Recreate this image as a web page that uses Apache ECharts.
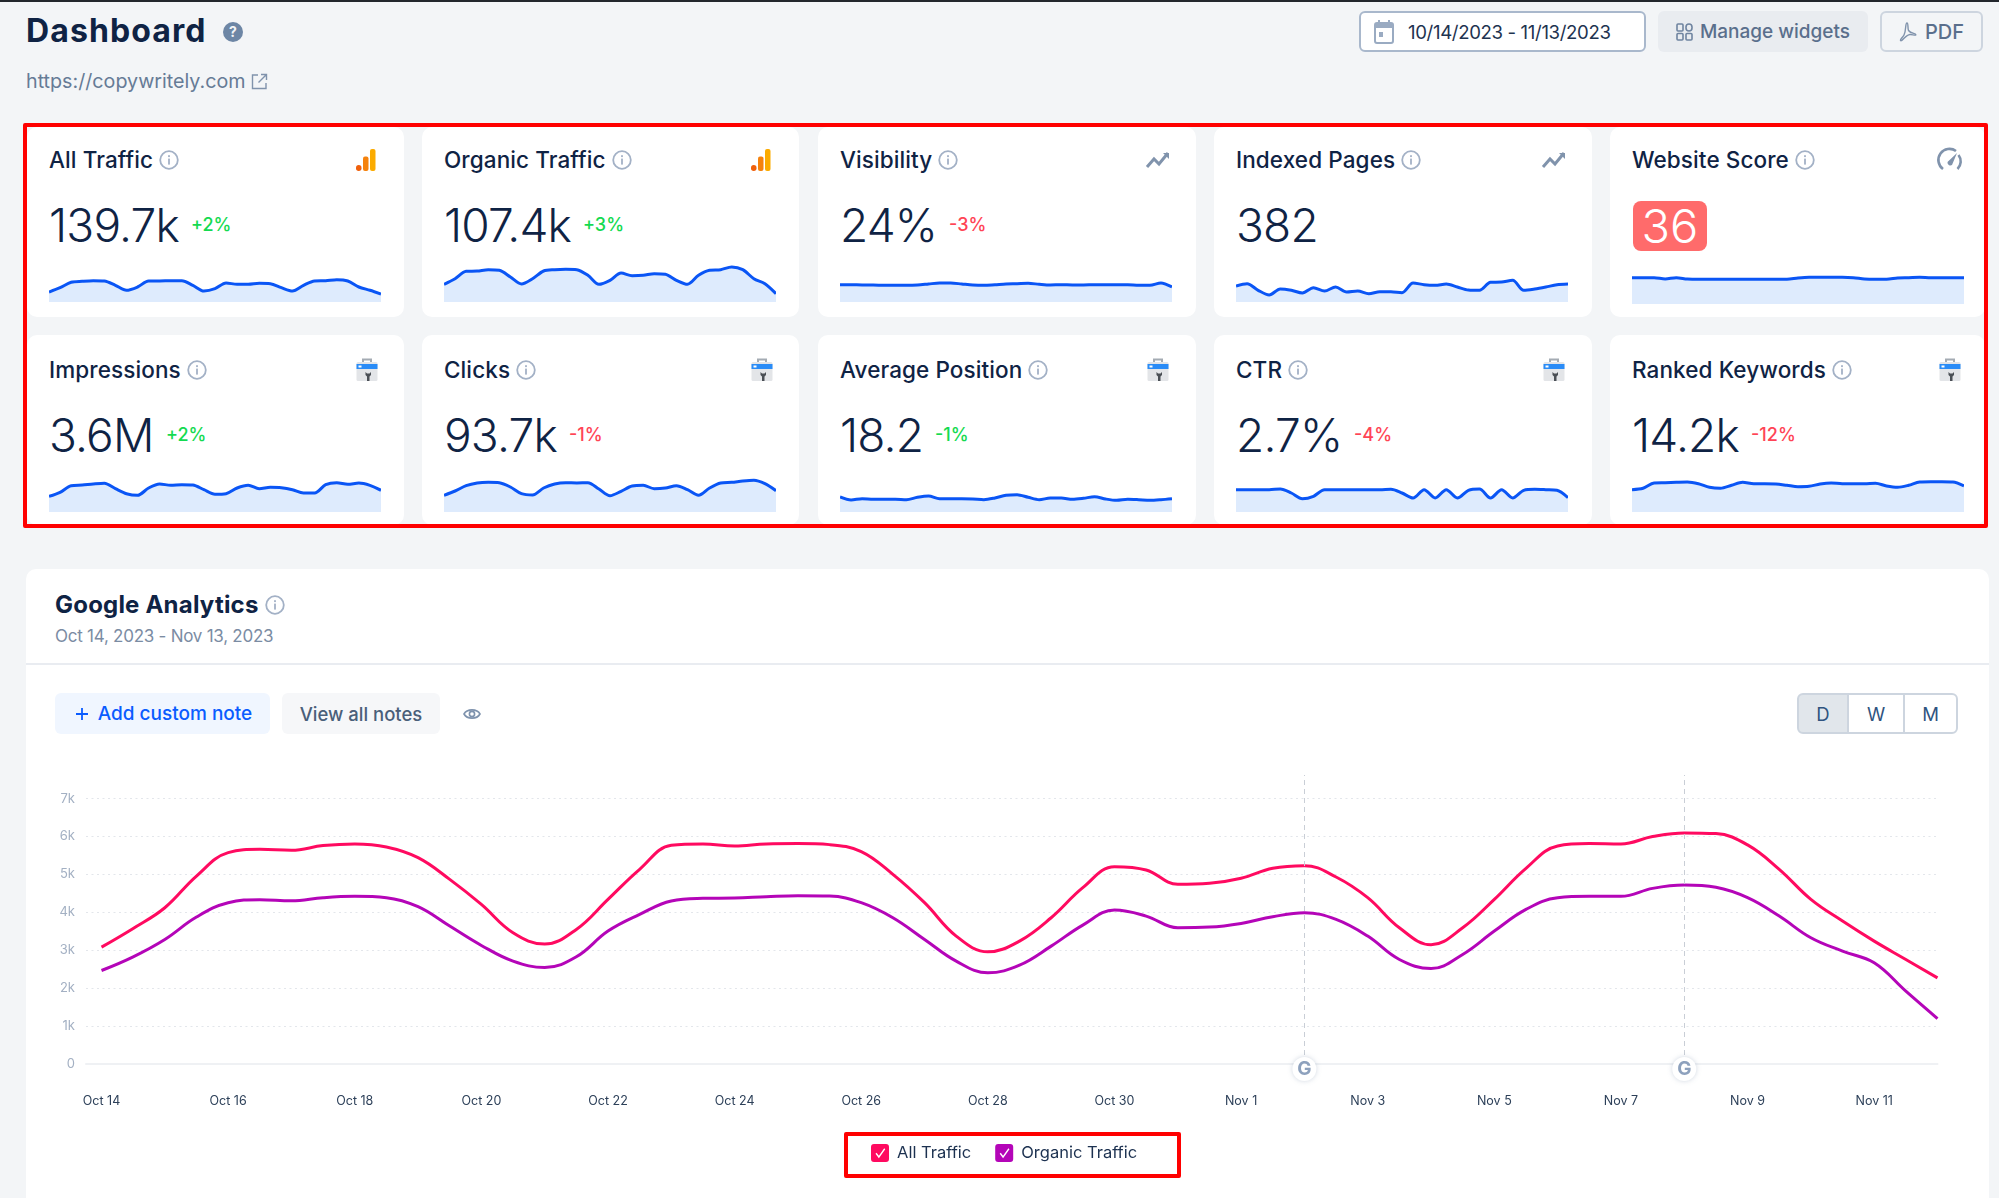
<!DOCTYPE html>
<html>
<head>
<meta charset="utf-8">
<title>Dashboard</title>
<script src="https://cdn.jsdelivr.net/npm/echarts@6/dist/echarts.min.js"></script>
<style>
    html,body{margin:0;padding:0;width:1999px;height:1198px;overflow:hidden;background:#f3f5f7;font-family:Inter,"Noto Sans",sans-serif;color:#0f2344;}
    .abs,.card,.panel,.red-box,.btn{position:absolute;box-sizing:border-box;}
    .abs{white-space:nowrap;line-height:1;}
    .top-line{position:absolute;left:0;top:0;width:1999px;height:2px;background:#23272d;}
    .card{background:#fff;border-radius:10px;}
    .panel{left:26px;top:569px;width:1963px;height:640px;background:#fff;border-radius:10px;}
    .red-box{border:4px solid #f00;z-index:5;border-radius:2px;}
    .btn{font-size:18.5px;font-weight:500;border-radius:6px;display:flex;align-items:center;justify-content:center;white-space:nowrap;}
    .card-title{font-size:22.5px;font-weight:500;letter-spacing:.1px;}
    .card-value{font-size:46px;font-weight:350;letter-spacing:-.8px;}
    .card-delta{font-size:18px;font-weight:500;}
    .spark{position:absolute;width:332px;height:60px;}
    svg{position:absolute;overflow:visible;}
    #mainChart{position:absolute;left:0;top:760px;width:1999px;height:438px;}
</style>
</head>
<body>
<div class="top-line"></div>
<div id="page"></div>
<div class="panel"></div>
<div id="panelItems"></div>
<div id="mainChart"></div>
<div class="red-box" style="left:23px;top:123px;width:1965px;height:405px;"></div>
<div class="red-box" style="left:844px;top:1132px;width:337px;height:46px;"></div>

<script>
/*卡片文字*/
var cardTitles = ['All Traffic', 'Organic Traffic', 'Visibility', 'Indexed Pages', 'Website Score',
    'Impressions', 'Clicks', 'Average Position', 'CTR', 'Ranked Keywords'];
var cardValues = ['139.7k', '107.4k', '24%', '382', '36', '3.6M', '93.7k', '18.2', '2.7%', '14.2k'];
var cardDeltas = ['+2%', '+3%', '-3%', '', '', '+2%', '-1%', '-1%', '-4%', '-12%'];
var deltaGood = [true, true, false, false, false, true, false, true, false, false];
var cardIcons = ['ga', 'ga', 'trend', 'trend', 'gauge', 'gsc', 'gsc', 'gsc', 'gsc', 'gsc'];

/*卡片小图数据 (no scale in the picture, relative height read off each sparkline)*/
var sparkAllTraffic = [10,14.3,19.7,20.7,21.3,21,16.7,11.7,15,21,21,21.3,21.3,16.7,11,13.3,19,17.7,17.7,18.7,18.3,14.3,11,16.7,21,21.3,22.3,21,15,11.7,8];
var sparkOrganic = [17.7,23.3,30.7,31,32.3,31.7,25,18,23.3,31,32.3,32.7,32.3,26.7,17.7,21.7,29,26.3,26.7,28.3,27.7,21.7,17.7,26.7,31.7,32.3,35,32.3,23.3,18.3,8.3];
var sparkVisibility = [17.3,17.3,17,17,16.7,16.7,16.7,17,18,19,19,18,17,16.7,17.3,18,18.3,18.7,17.7,17,17.3,17,17,17.3,17.3,17.3,17.3,16.7,16.7,19,15];
var sparkIndexed = [16,18.3,11.7,7,13,11.7,9,14.3,11,15,10,11,8.3,10.3,10.3,9.3,19,17.3,16.7,18,15,12,11.7,19.7,20,21.7,11.7,13,15,17.3,18];
var sparkScore = [26.3,26.3,26.3,25,26.3,25,24.7,24.7,24.7,24.7,24.7,24.7,24.7,24.7,24.7,26,26.7,26.7,26.7,26.7,26.3,25,24.7,24.7,26,26.3,26.7,26.3,26.3,26.3,26.3];
var sparkImpressions = [15.7,19.7,26.3,27,28,28.7,23.3,18.3,16.7,24,28,26.7,27.3,27,22.3,17.7,18.3,24,26.7,23.3,24.7,24.3,22.3,19,19,27.3,29.3,27.7,29,26.7,21.7];
var sparkClicks = [16.7,21,26.3,29,29.7,29.3,25,18.3,17,24,28,29.3,29,29.3,23,16.3,20.7,26,26.7,23.3,24,26.3,22.3,16.7,24,29,29.7,31,31.7,28.3,21.3];
var sparkPosition = [15,12,13.3,12.7,12.7,12.7,12.3,14.7,16,13.3,13.3,13.3,13,12.3,14,16.7,17.3,14.7,12.3,14,14,12.7,13.7,15.3,13,11.7,12.7,12.3,11.7,12.3,13.3];
var sparkCtr = [22.3,22.3,22.3,22.3,23,19,13.3,15.7,22.3,22.3,22.3,22.3,22.3,22.3,22.7,19,14,22.3,14,22.3,14,21.7,23,14,22.3,14,21.7,22.7,22.3,21.7,14.3];
var sparkKeywords = [22.3,23.7,29,29.3,29.7,30,28.3,24.7,23.7,26.7,29.7,28.3,28.3,28,26.7,25.3,25.7,28,29,28.3,28.3,28.3,28.7,26,24.7,26.7,30,30.3,30.3,30,26];
var sparkSeries = [sparkAllTraffic, sparkOrganic, sparkVisibility, sparkIndexed, sparkScore,
    sparkImpressions, sparkClicks, sparkPosition, sparkCtr, sparkKeywords];

/*Google Analytics 折线图数据, 每半天读一个值*/
var dayLabels = ['Oct 14','Oct 15','Oct 16','Oct 17','Oct 18','Oct 19','Oct 20','Oct 21','Oct 22','Oct 23','Oct 24','Oct 25','Oct 26','Oct 27','Oct 28','Oct 29','Oct 30','Oct 31',
    'Nov 1','Nov 2','Nov 3','Nov 4','Nov 5','Nov 6','Nov 7','Nov 8','Nov 9','Nov 10','Nov 11','Nov 12'];
var allTraffic = [3084,3577,4123,4960,5577,5665,5639,5762,5806,5727,5445,4872,4211,3463,3163,3551,4344,5137,5771,5806,
    5753,5806,5815,5788,5603,5004,4256,3375,2960,3242,3859,4652,5207,5119,4740,4766,4899,5163,5233,
    4934,4388,3595,3145,3595,4344,5163,5753,5815,5806,6000,6097,6079,5780,5137,4344,3771,3242,2758,2273];
var organicTraffic = [2467,2828,3286,3877,4256,4335,4308,4388,4423,4388,4150,3639,3128,2714,2546,2828,3507,3947,4300,4370,
    4379,4414,4441,4432,4256,3859,3286,2714,2405,2608,3110,3665,4062,3903,3595,3612,3709,3886,3991,
    3815,3375,2758,2520,2890,3507,4079,4388,4423,4423,4634,4722,4661,4388,3903,3330,2978,2670,1921,1198];
var yTicks = [0,1000,2000,3000,4000,5000,6000,7000];
var xTickDays = [0,2,4,6,8,10,12,14,16,18,20,22,24,26,28];
var googleUpdateDays = [19,25];

/*图标*/
function infoIcon(x,y){
    return '<svg style="left:'+(x-10)+'px;top:'+(y-10)+'px" width="20" height="20" viewBox="0 0 20 20"><circle cx="10" cy="10" r="8.8" fill="none" stroke="#a3b1c6" stroke-width="1.8"/><rect x="9.1" y="8.6" width="1.8" height="6" fill="#a3b1c6"/><rect x="9.1" y="5.2" width="1.8" height="1.9" fill="#a3b1c6"/></svg>';
}
function cardIcon(type,x,y){
    var style = 'style="left:'+(x-12)+'px;top:'+(y-12)+'px" width="24" height="24" viewBox="0 0 24 24"';
    if(type=='ga'){
        return '<svg '+style+'><rect x="1" y="17" width="5.5" height="6" rx="2.7" fill="#f0600c"/><rect x="8" y="8.5" width="5.5" height="14.5" rx="2" fill="#f5820d"/><rect x="15" y="1" width="5.5" height="22" rx="2" fill="#fbab00"/></svg>';
    }
    if(type=='trend'){
        return '<svg '+style+'><path d="M1 19L8 11L13 16L22 5" fill="none" stroke="#8093ac" stroke-width="3"/><path d="M17 5H23V11" fill="#8093ac"/></svg>';
    }
    if(type=='gauge'){
        return '<svg '+style+'><path d="M5 21A10.5 10.5 0 0 1 18 3" fill="none" stroke="#8093ac" stroke-width="2.6"/><path d="M20.5 7A10.5 10.5 0 0 1 19.5 21" fill="none" stroke="#8093ac" stroke-width="2.6"/><path d="M19 5L14 17A3 3 0 0 1 9.5 14Z" fill="#8093ac"/></svg>';
    }
    return '<svg '+style+'><path d="M8 4V1.5H16V4" fill="none" stroke="#a4abb3" stroke-width="2"/><rect x="1.5" y="4" width="21" height="19" rx="1.5" fill="#e3e5e8"/><rect x="1.5" y="6" width="21" height="5" fill="#2a8cf7"/><rect x="3.5" y="7.5" width="3" height="2" fill="#fff"/><path d="M10.5 14V17L12 18.5V23H14.5V18.5L16 17V14L14.5 15.5H12Z" fill="#4a4f55"/></svg>';
}
/*卡片*/
function buildCards(){
    var cardLefts = [27,422,818,1214,1610],
        cardWidths = [377,377,378,378,375],
        str = '';
    for(var i=0;i<cardTitles.length;i++){
        var col = i%5,
            rowY = i<5 ? 0 : 210,
            left = cardLefts[col],
            textLeft = left+22;
        str += '<div class="card" style="left:'+left+'px;top:'+(i<5?127:335)+'px;width:'+cardWidths[col]+'px;height:190px"></div>';
        str += '<div class="abs card-title" id="title'+i+'" style="left:'+textLeft+'px;top:'+(149+rowY)+'px">'+cardTitles[i]+'</div>';
        str += '<div class="card-icon" style="position:absolute;left:0;top:0">'+cardIcon(cardIcons[i],left+340,160+rowY)+'</div>';
        if(cardIcons[i]=='gauge'){
            str += '<div class="abs" style="left:1633px;top:201px;width:74px;height:50px;background:#ff6b6b;border-radius:8px;color:#fff;font-size:47px;font-weight:350;line-height:50px;text-align:center">'+cardValues[i]+'</div>';
        }else{
            str += '<div class="abs card-value" id="value'+i+'" style="left:'+textLeft+'px;top:'+(202+rowY)+'px">'+cardValues[i]+'</div>';
            str += '<div class="abs card-delta" id="delta'+i+'" style="left:'+textLeft+'px;top:'+(216+rowY)+'px;color:'+(deltaGood[i]?'#14da50':'#ff4455')+'">'+cardDeltas[i]+'</div>';
        }
        /*Website Score 的小图基线低一点*/
        str += '<div class="spark" id="spark'+i+'" style="left:'+textLeft+'px;top:'+(i==4?244:242+rowY)+'px"></div>';
    }
    document.getElementById('page').innerHTML = str;
    /*标题后面的 i 图标, 涨跌幅紧跟数字*/
    var extra = '';
    for(var j=0;j<cardTitles.length;j++){
        var t = document.getElementById('title'+j),
            rowTop = j<5 ? 160 : 370;
        extra += infoIcon(t.offsetLeft+t.offsetWidth+16,rowTop);
        var v = document.getElementById('value'+j),
            d = document.getElementById('delta'+j);
        if(v && d){
            d.style.left = (v.offsetLeft+v.offsetWidth+12)+'px';
        }
    }
    var holder = document.createElement('div');
    holder.innerHTML = extra;
    document.getElementById('page').appendChild(holder);
}
/*页头和面板里的文字*/
function buildHeader(){
    var str = '';
    str += '<div class="abs" style="left:26px;top:15px;font-size:32px;font-weight:700;letter-spacing:1.1px">Dashboard</div>';
    str += '<svg style="left:223px;top:22px" width="20" height="20" viewBox="0 0 20 20"><circle cx="10" cy="10" r="10" fill="#6d86a5"/><text x="10" y="15" text-anchor="middle" font-size="14" font-weight="700" fill="#f3f5f7" font-family="Inter">?</text></svg>';
    str += '<div class="abs" style="left:26px;top:72px;font-size:19.7px;color:#667b96">https://copywritely.com</div>';
    str += '<svg style="left:251px;top:73px" width="17" height="17" viewBox="0 0 17 17"><path d="M7 2H1.5V15.5H15V10" fill="none" stroke="#8093ac" stroke-width="1.4"/><path d="M10 1.5H15.5V7M15.5 1.5L7.5 9.5" fill="none" stroke="#8093ac" stroke-width="1.4"/></svg>';
    /*右上角按钮*/
    str += '<div class="btn" style="left:1359px;top:11px;width:287px;height:41px;background:#fff;border:2px solid #a9b8cc;justify-content:flex-start;padding-left:47px;font-size:18.6px;letter-spacing:-.35px;font-weight:400;color:#1e3350">10/14/2023 - 11/13/2023</div>';
    str += '<svg style="left:1374px;top:20px" width="20" height="24" viewBox="0 0 20 24"><rect x="1" y="3" width="18" height="20" rx="2" fill="none" stroke="#9aabc2" stroke-width="2"/><rect x="1" y="3" width="18" height="5" fill="#9aabc2"/><rect x="4" y="0" width="2" height="4" fill="#9aabc2"/><rect x="14" y="0" width="2" height="4" fill="#9aabc2"/><rect x="5" y="12" width="4" height="5" fill="#9aabc2"/></svg>';
    str += '<div class="btn" style="left:1658px;top:11px;width:210px;height:41px;background:#e9ecf0;color:#5a6f8c;padding-left:24px;font-size:19px">Manage widgets</div>';
    str += '<svg style="left:1676px;top:23px" width="17" height="18" viewBox="0 0 17 18"><g fill="none" stroke="#6f84a0" stroke-width="1.6"><rect x="1" y="1" width="6" height="7" rx="1"/><rect x="10" y="1" width="6" height="7" rx="3"/><rect x="1" y="10.5" width="6" height="6.5" rx="1"/><rect x="10" y="10.5" width="6" height="6.5" rx="1"/></g></svg>';
    str += '<div class="btn" style="left:1880px;top:11px;width:103px;height:41px;border:2px solid #cdd5df;color:#5a6f8c;padding-left:26px;font-size:20px">PDF</div>';
    str += '<svg style="left:1899px;top:22px" width="18" height="20" viewBox="0 0 18 20"><path d="M8 1C6 1 7.5 8 5 13C3.5 16 1 17 1.5 18.5C3 20 6.5 13 11 12.5C13 12.3 17 14 16.8 12.6C16.5 11 12 12 9.5 8.5C8.5 6.5 9.5 1 8 1Z" fill="none" stroke="#8093ac" stroke-width="1.4"/></svg>';
    /*面板头部*/
    str += '<div class="abs" style="left:55px;top:593px;font-size:24px;font-weight:700;letter-spacing:.2px">Google Analytics</div>';
    str += '<div id="gaInfo">'+infoIcon(275,605)+'</div>';
    str += '<div class="abs" style="left:55px;top:628px;font-size:17px;letter-spacing:-.25px;color:#7b8ca3">Oct 14, 2023 - Nov 13, 2023</div>';
    str += '<div class="abs" style="left:26px;top:663px;width:1963px;height:2px;background:#e9ecf1"></div>';
    str += '<div class="btn" style="left:55px;top:693px;width:215px;height:41px;background:#f0f6ff;color:#0a5cff;padding-left:25px;font-size:19px">Add custom note</div>';
    str += '<svg style="left:75px;top:707px" width="14" height="14" viewBox="0 0 14 14"><path d="M7 1V13M1 7H13" stroke="#0a5cff" stroke-width="1.8"/></svg>';
    str += '<div class="btn" style="left:282px;top:693px;width:158px;height:41px;background:#f6f7f9;color:#4a5f7a">View all notes</div>';
    str += '<svg style="left:463px;top:707px" width="18" height="14" viewBox="0 0 18 14"><path d="M1 7C4 1.5 14 1.5 17 7C14 12.5 4 12.5 1 7Z" fill="none" stroke="#7e92ad" stroke-width="1.6"/><circle cx="9" cy="7" r="2.6" fill="none" stroke="#7e92ad" stroke-width="1.6"/></svg>';
    /*D W M*/
    str += '<div class="btn" style="left:1797px;top:693px;width:52px;height:41px;background:#e1e6eb;border:2px solid #cdd5df;border-radius:6px 0 0 6px;color:#2f5480;font-weight:400">D</div>';
    str += '<div class="btn" style="left:1847px;top:693px;width:58px;height:41px;background:#fff;border:2px solid #cdd5df;border-radius:0;color:#2f5480;font-weight:400">W</div>';
    str += '<div class="btn" style="left:1903px;top:693px;width:55px;height:41px;background:#fff;border:2px solid #cdd5df;border-radius:0 6px 6px 0;color:#2f5480;font-weight:400">M</div>';
    document.getElementById('panelItems').innerHTML = str;
}
/*卡片小图*/
function sparkChart(el,data){
    var _thisChart = echarts.init(document.getElementById(el));
    _thisChart.setOption({
        animation: false,
        grid: {left: 0, right: 0, top: 0, bottom: 0},
        xAxis: {type: 'category', show: false, boundaryGap: false},
        yAxis: {type: 'value', show: false, min: 0, max: 60},
        series: [{
            type: 'line',
            data: data,
            smooth: 0.3,
            symbol: 'none',
            lineStyle: {color: '#0a55f5', width: 3},
            areaStyle: {color: '#deebfd', opacity: 1}
        }]
    });
}
/*Google Analytics 主图*/
function mainChart(el){
    var _thisChart = echarts.init(document.getElementById(el));
    var toPoints = function(arr){
        return arr.map(function(v,i){return [i/2,v];});
    };
    var checkIcon = 'path://M4 0H20A4 4 0 0 1 24 4V20A4 4 0 0 1 20 24H4A4 4 0 0 1 0 20V4A4 4 0 0 1 4 0Z M6 13L10.5 19L19 7L17.6 5.6L10.5 15.6L7.4 11.6Z';
    _thisChart.setOption({
        animation: false,
        textStyle: {fontFamily: 'Inter'},
        grid: {left: 86, right: 61.5, top: 15, bottom: 134},
        legend: {
            left: 871,
            top: 384,
            padding: 0,
            itemWidth: 18,
            itemHeight: 18,
            itemGap: 24,
            icon: checkIcon,
            textStyle: {color: '#1c3150', fontSize: 16.5, fontFamily: 'Inter', padding: [0,0,2,3]},
            data: ['All Traffic', 'Organic Traffic']
        },
        xAxis: {
            type: 'value',
            min: -0.245,
            max: 29,
            splitLine: {show: false},
            axisTick: {show: false},
            axisLine: {show: true, lineStyle: {color: '#eff1f4', width: 2}},
            axisLabel: {
                customValues: xTickDays,
                margin: 31,
                color: '#2d4059',
                fontSize: 12.5,
                fontFamily: 'Inter',
                formatter: function(v){return dayLabels[v];}
            }
        },
        yAxis: {
            type: 'value',
            min: 0,
            max: 7625,
            axisLine: {show: false},
            axisTick: {show: false, customValues: yTicks},
            splitLine: {lineStyle: {color: '#e3e6eb', type: [2,3.5], width: 1}},
            axisLabel: {
                customValues: yTicks,
                margin: 11,
                color: '#a3b0c3',
                fontSize: 13,
                fontFamily: 'Inter',
                formatter: function(v){return v==0 ? '0' : (v/1000)+'k';}
            }
        },
        series: [{
            name: 'All Traffic',
            type: 'line',
            data: toPoints(allTraffic),
            smooth: 0.4,
            symbol: 'none',
            itemStyle: {color: '#ff0a60'},
            lineStyle: {color: '#ff0a60', width: 3}
        },{
            name: 'Organic Traffic',
            type: 'line',
            data: toPoints(organicTraffic),
            smooth: 0.4,
            symbol: 'none',
            itemStyle: {color: '#b405b8'},
            lineStyle: {color: '#b405b8', width: 3},
            markLine: {
                silent: true,
                symbol: 'none',
                label: {show: false},
                lineStyle: {color: '#c9ced6', type: [5,4], width: 1},
                data: googleUpdateDays.map(function(d){return {xAxis: d};})
            },
            markPoint: {
                silent: true,
                symbol: 'circle',
                symbolSize: 24,
                symbolOffset: [0, 5],
                itemStyle: {color: '#fff', shadowColor: 'rgba(120,140,170,0.35)', shadowBlur: 5},
                label: {show: true, formatter: 'G', color: '#8da1bd', fontSize: 19, fontWeight: 700, fontFamily: 'Inter', position: 'inside'},
                data: googleUpdateDays.map(function(d){return {coord: [d, 0]};})
            }
        }]
    });
}
buildCards();
buildHeader();
for(var i=0;i<sparkSeries.length;i++){
    sparkChart('spark'+i,sparkSeries[i]);
}
mainChart('mainChart');
</script>
</body>
</html>
